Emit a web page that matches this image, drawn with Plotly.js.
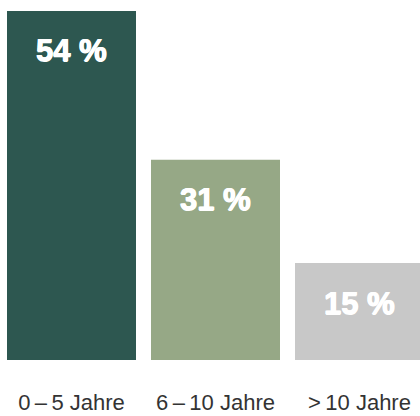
<!DOCTYPE html>
<html>
<head>
<meta charset="utf-8">
<script src="https://cdn.plot.ly/plotly-3.0.1.min.js"></script>
<style>html,body{margin:0;padding:0;background:#fff;}#chart{width:420px;height:416px;}</style>
</head>
<body>
<div id="chart"></div>
<script>
const categories = ["0\u2009\u2013\u20095 Jahre", "6\u2009\u2013\u200910 Jahre", ">\u200910 Jahre"];
const values = [54, 31, 15];
const valueLabels = ["54 %", "31 %", "15 %"];
const barColors = ["#2d5750", "#96a886", "#c8c8c8"];

const trace = {
  type: "bar",
  x: categories,
  y: values,
  marker: {color: barColors, line: {width: 0}},
  hoverinfo: "none",
  textposition: "none"
};

const annotations = categories.map((c, i) => ({
  x: c, y: values[i], xref: "x", yref: "y",
  text: valueLabels[i], showarrow: false,
  yanchor: "middle", xanchor: "center", yshift: -40,
  font: {family: "Liberation Sans, Arial, sans-serif", size: 31, color: "#ffffff", weight: "bold",
         shadow: "0.6px 0 0 #fff, -0.6px 0 0 #fff, 0 0.5px 0 #fff"}
}));

const layout = {
  width: 420, height: 416,
  margin: {l: 0, r: 0, t: 0, b: 56, pad: 0},
  paper_bgcolor: "#ffffff", plot_bgcolor: "#ffffff",
  showlegend: false,
  bargap: 15/144,
  xaxis: {
    type: "category",
    range: [-0.4965, 2.4201],
    showgrid: false, zeroline: false, showline: false,
    ticks: "", ticklabelstandoff: 27,
    tickfont: {family: "Liberation Sans, Arial, sans-serif", size: 22, color: "#333333"},
    fixedrange: true
  },
  yaxis: {
    range: [0, 55.70],
    visible: false, showgrid: false, zeroline: false,
    fixedrange: true
  },
  annotations: annotations
};

Plotly.newPlot("chart", [trace], layout, {displayModeBar: false, staticPlot: true});
</script>
</body>
</html>
